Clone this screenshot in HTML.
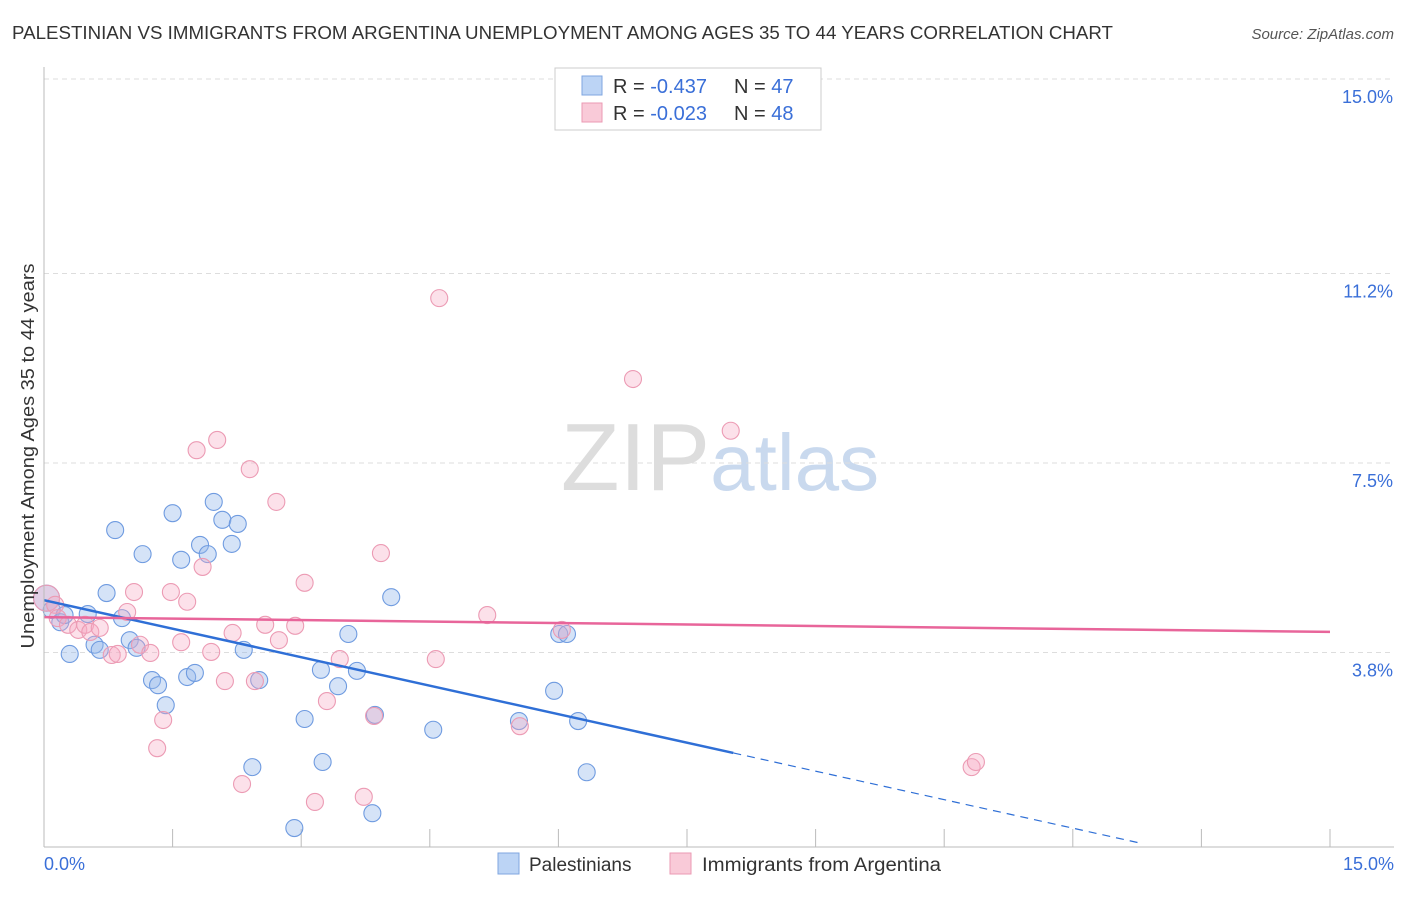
<!DOCTYPE html>
<html><head><meta charset="utf-8"><style>
body{margin:0;background:#fff;font-family:"Liberation Sans",sans-serif;}
svg text{font-family:"Liberation Sans",sans-serif;}
</style></head><body>
<svg id="chart" width="1406" height="892">
<text x="12" y="39" font-size="18" fill="#333" textLength="1101" lengthAdjust="spacingAndGlyphs">PALESTINIAN VS IMMIGRANTS FROM ARGENTINA UNEMPLOYMENT AMONG AGES 35 TO 44 YEARS CORRELATION CHART</text>
<text x="1394" y="39" font-size="15" fill="#555" font-style="italic" text-anchor="end">Source: ZipAtlas.com</text>
<text x="720" y="490" font-size="96" fill="#ddd" text-anchor="middle" font-family="Liberation Serif">ZIP<tspan fill="#c9d9ee" font-family="Liberation Sans" font-size="80">atlas</tspan></text>
<g id="grid"></g><g id="pts"></g><g id="lines"></g>
<line x1="44" y1="67" x2="44" y2="847" stroke="#bbb"/>
<line x1="44" y1="847" x2="1394" y2="847" stroke="#bbb"/>
<text x="34" y="456" font-size="18" fill="#333" text-anchor="middle" textLength="385" lengthAdjust="spacingAndGlyphs" transform="rotate(-90 34 456)">Unemployment Among Ages 35 to 44 years</text>
<text x="44" y="870" font-size="18" fill="#3a6fd8">0.0%</text>
<text x="1394" y="870" font-size="18" fill="#3a6fd8" text-anchor="end">15.0%</text>
<g>
<rect x="555" y="68" width="266" height="62" fill="#fff" stroke="#ccc"/>
<rect x="582" y="76" width="20" height="19" fill="#bcd4f5" stroke="#7fa6e0"/>
<rect x="582" y="103" width="20" height="19" fill="#f9cad8" stroke="#eb9ab3"/>
<text x="613" y="93" font-size="20" fill="#333">R = <tspan fill="#3a6fd8">-0.437</tspan></text>
<text x="734" y="93" font-size="20" fill="#333">N = <tspan fill="#3a6fd8">47</tspan></text>
<text x="613" y="120" font-size="20" fill="#333">R = <tspan fill="#3a6fd8">-0.023</tspan></text>
<text x="734" y="120" font-size="20" fill="#333">N = <tspan fill="#3a6fd8">48</tspan></text>
</g>
<g>
<rect x="498" y="853" width="21" height="21" fill="#bcd4f5" stroke="#7fa6e0"/>
<text x="529" y="871" font-size="19" fill="#333">Palestinians</text>
<rect x="670" y="853" width="21" height="21" fill="#f9cad8" stroke="#eb9ab3"/>
<text x="702" y="871" font-size="19" fill="#333" textLength="239" lengthAdjust="spacingAndGlyphs">Immigrants from Argentina</text>
</g>
</svg>
<script>
const yTicks=[15.0,11.2,7.5,3.8];
const yTickLabels=["15.0%","11.2%","7.5%","3.8%"];
const xTicks=[0,1.5,3,4.5,6,7.5,9,10.5,12,13.5,15];
const palX=[0.03,0.09,0.19,0.24,0.30,0.51,0.59,0.65,0.73,0.83,0.91,1.00,1.08,1.15,1.26,1.33,1.42,1.50,1.60,1.67,1.76,1.82,1.91,1.98,2.08,2.19,2.26,2.33,2.43,2.51,2.92,3.04,3.23,3.25,3.43,3.55,3.65,3.83,3.86,4.05,4.54,5.54,5.95,6.01,6.10,6.23,6.33];
const palY=[4.86,4.63,4.39,4.53,3.77,4.55,3.95,3.85,4.96,6.19,4.47,4.04,3.89,5.72,3.26,3.16,2.77,6.52,5.61,3.32,3.40,5.90,5.72,6.74,6.39,5.92,6.31,3.85,1.56,3.26,0.37,2.50,3.46,1.66,3.14,4.16,3.44,0.66,2.58,4.88,2.29,2.46,3.05,4.16,4.16,2.46,1.46];
const argX=[0.03,0.13,0.16,0.28,0.40,0.48,0.54,0.65,0.79,0.86,0.97,1.05,1.12,1.24,1.32,1.39,1.48,1.60,1.67,1.78,1.85,1.95,2.02,2.11,2.20,2.31,2.40,2.46,2.58,2.71,2.74,2.93,3.04,3.16,3.30,3.45,3.73,3.85,3.93,4.57,4.61,5.17,5.55,6.04,6.87,8.01,10.82,10.87];
const argY=[4.86,4.73,4.47,4.34,4.24,4.34,4.20,4.28,3.75,3.77,4.59,4.98,3.95,3.79,1.93,2.48,4.98,4.00,4.79,7.75,5.47,3.81,7.95,3.24,4.18,1.23,7.38,3.24,4.34,6.74,4.04,4.32,5.16,0.88,2.85,3.67,0.98,2.56,5.74,3.67,10.72,4.53,2.36,4.24,9.14,8.13,1.56,1.66];
const palLine=[4.82,-0.371,8.04,12.79];
const argLine=[4.49,-0.0193,15];
const X=v=>44+v/15*1286, Y=v=>847-v*51.2;
const NS="http://www.w3.org/2000/svg";
function mk(t,a,p){const e=document.createElementNS(NS,t);for(const k in a)e.setAttribute(k,a[k]);p.appendChild(e);return e;}
const g=document.getElementById('grid');
yTicks.forEach((v,i)=>{
 const l=mk('line',{x1:44,x2:1394,y1:Y(v),y2:Y(v),stroke:'#ddd','stroke-dasharray':'5,4'},g);
 
 
 const t=mk('text',{x:1393,y:Y(v)+24,'font-size':18,fill:'#3a6fd8','text-anchor':'end'},g);
 t.textContent=yTickLabels[i];
 
 
});
xTicks.forEach(v=>{
 const l=mk('line',{x1:X(v),x2:X(v),y1:829,y2:847,stroke:'#bbb'},g);
 
 
});
const p=document.getElementById('pts');
palX.forEach((v,i)=>{
 const c=mk('circle',{cx:X(v),cy:Y(palY[i]),r:i==0?13:8.5,fill:'rgba(150,185,235,0.4)',stroke:'#6f9be0','stroke-width':1.1},p);
 
 
});
argX.forEach((v,i)=>{
 const c=mk('circle',{cx:X(v),cy:Y(argY[i]),r:i==0?13:8.5,fill:'rgba(245,170,195,0.35)',stroke:'#ec9bb4','stroke-width':1.1},p);
 
 
});
const L=document.getElementById('lines');
const f=x=>palLine[0]+palLine[1]*x;
let a=mk('line',{x1:X(0),y1:Y(f(0)),x2:X(palLine[2]),y2:Y(f(palLine[2])),stroke:'#2f6fd6','stroke-width':2.5},L);


let b=mk('line',{x1:X(palLine[2]),y1:Y(f(palLine[2])),x2:X(palLine[3]),y2:Y(f(palLine[3])),stroke:'#2f6fd6','stroke-width':1.2,'stroke-dasharray':'8,6'},L);


let c=mk('line',{x1:X(0),y1:Y(argLine[0]),x2:X(argLine[2]),y2:Y(argLine[0]+argLine[1]*argLine[2]),stroke:'#e8659a','stroke-width':2.5},L);


</script>
</body></html>
